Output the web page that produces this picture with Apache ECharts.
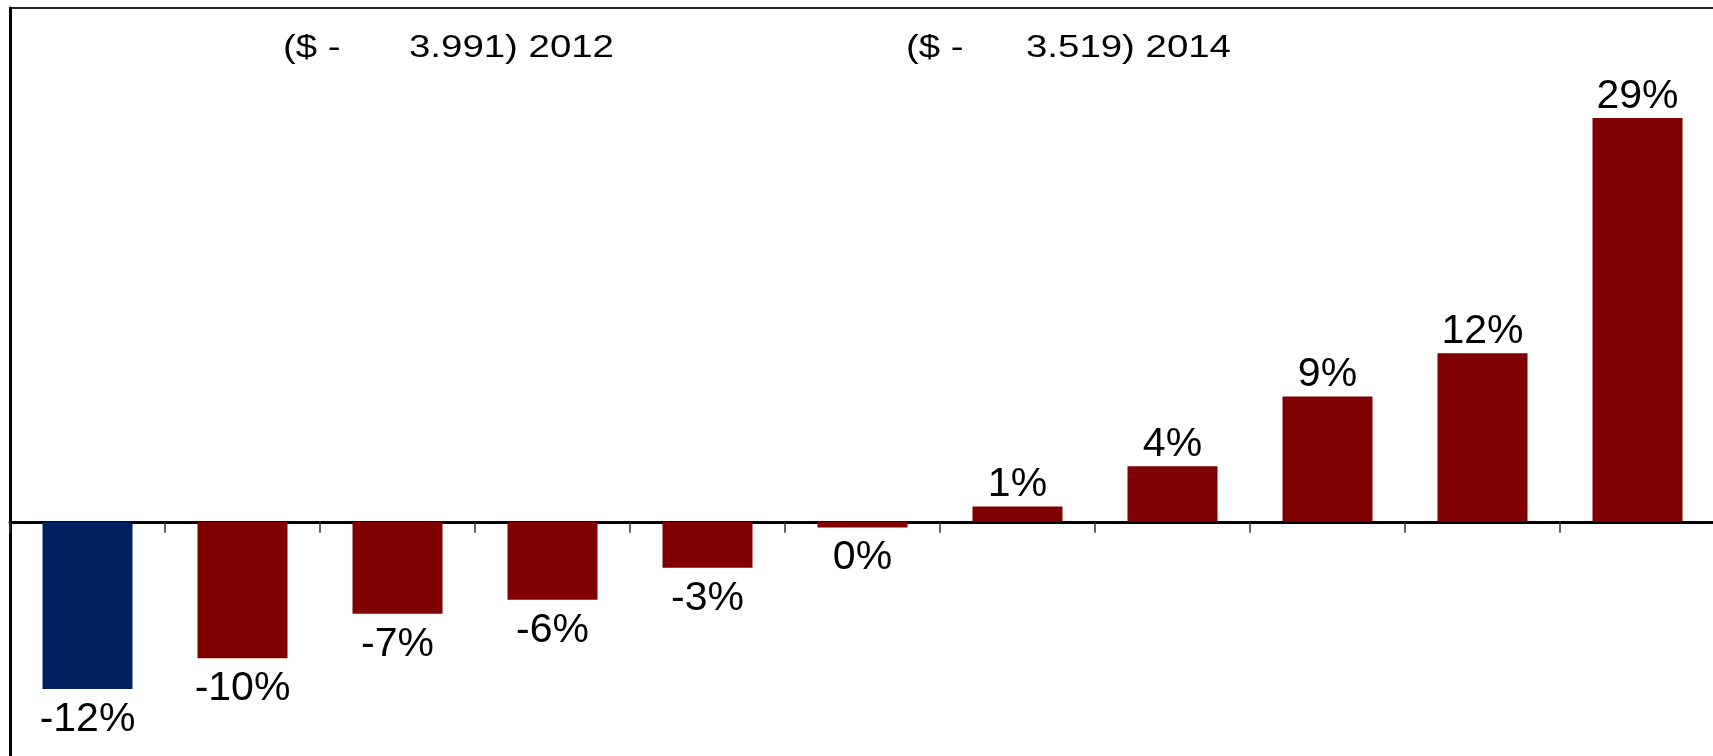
<!DOCTYPE html>
<html lang="en">
<head>
    <meta charset="utf-8" />
    <title>ECharts</title>
    <style>
        html, body { margin: 0; padding: 0; background: #fff; }
    </style>
</head>
<body>
    <div id="main" style="width:1713px;height:756px"></div>
    <script src="https://cdn.jsdelivr.net/npm/echarts@6/dist/echarts.min.js"></script>
    <script>
        // chart data
        var categories = ['c1', 'c2', 'c3', 'c4', 'c5', 'c6', 'c7', 'c8', 'c9', 'c10', 'c11'];
        var values = [-12.0, -9.8, -6.6, -5.6, -3.3, -0.4, 1.1, 4.0, 9.0, 12.1, 29.0];
        var barColors = ['#002060', '#800000', '#800000', '#800000', '#800000', '#800000',
                         '#800000', '#800000', '#800000', '#800000', '#800000'];
        var header1 = ['($ -', '3.991) 2012'];
        var header2 = ['($ -', '3.519) 2014'];

        var myChart = echarts.init(document.getElementById('main'));

        var barData = [];
        for (var i = 0; i < values.length; i++) {
            var neg = values[i] < 0;
            barData.push({
                value: values[i],
                itemStyle: { color: barColors[i] },
                label: { position: neg ? 'bottom' : 'top', distance: neg ? 10 : 1 }
            });
        }

        function headText(txt, x) {
            return {
                type: 'text',
                x: x,
                y: 48,
                scaleX: 1.2,
                style: {
                    text: txt,
                    x: 0,
                    y: 0,
                    fill: '#000',
                    font: '32px "Liberation Sans", Arial, sans-serif',
                    verticalAlign: 'middle'
                }
            };
        }

        var option = {
            animation: false,
            backgroundColor: '#fff',
            grid: {
                left: 10,
                right: -2,
                top: 8,
                bottom: -4,
                outerBoundsMode: 'none',
                containLabel: false
            },
            xAxis: {
                type: 'category',
                data: categories,
                axisLine: { onZero: true, lineStyle: { color: '#000', width: 3 } },
                axisTick: { show: true, length: 11, lineStyle: { color: '#333', width: 1.5 } },
                axisLabel: { show: false },
                splitLine: { show: false }
            },
            yAxis: {
                type: 'value',
                min: -17.1,
                max: 36.9,
                axisLine: { show: true, lineStyle: { color: '#000', width: 3 } },
                axisTick: { show: false },
                axisLabel: { show: false },
                splitLine: { show: false }
            },
            graphic: [
                {
                    type: 'line',
                    shape: { x1: 9, y1: 8, x2: 1713, y2: 8 },
                    style: { stroke: '#222', lineWidth: 2 }
                },
                headText(header1[0], 283),
                headText(header1[1], 409),
                headText(header2[0], 906),
                headText(header2[1], 1026)
            ],
            series: [{
                type: 'bar',
                data: barData,
                barWidth: 90,
                label: {
                    show: true,
                    color: '#000',
                    fontSize: 41,
                    fontFamily: '"Liberation Sans", Arial, sans-serif',
                    formatter: function (p) {
                        return String(Math.round(p.value)) + '%';
                    }
                }
            }]
        };

        myChart.setOption(option);
    </script>
</body>
</html>
